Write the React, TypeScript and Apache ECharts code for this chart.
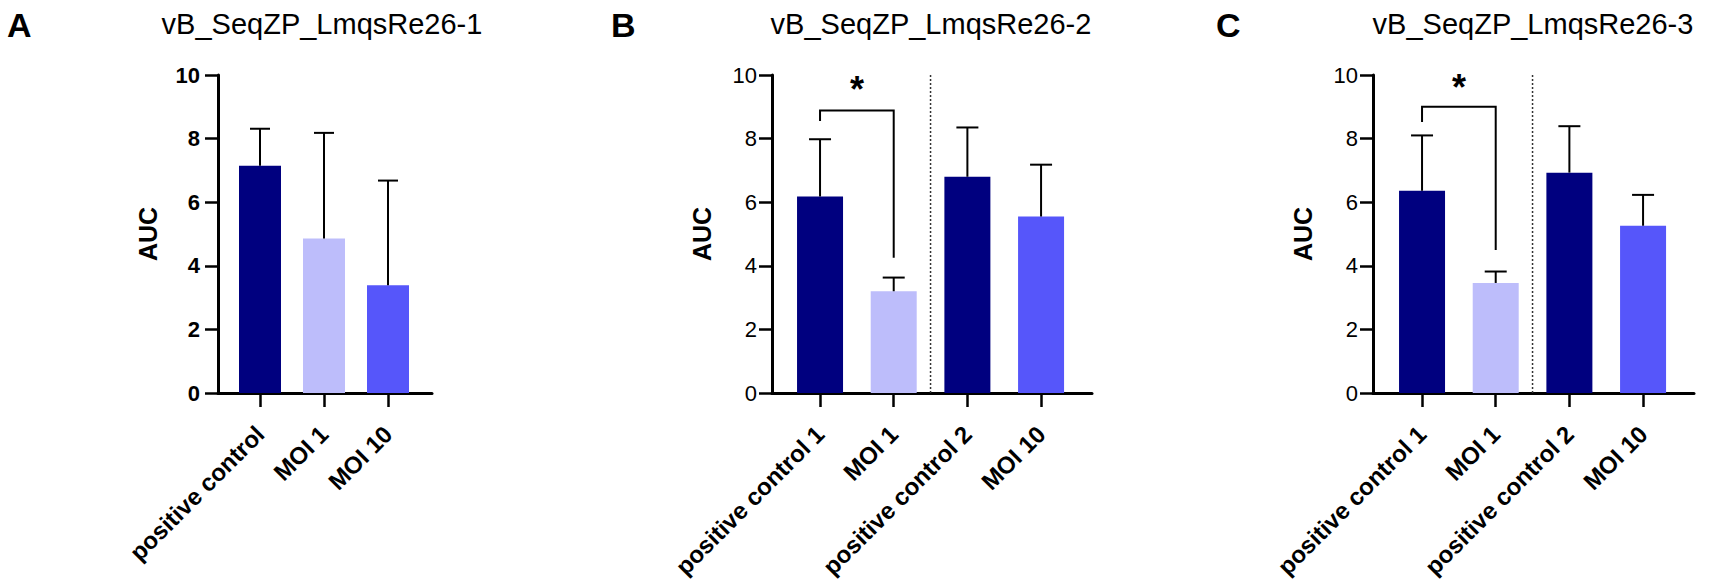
import React, { useEffect, useRef } from "react";
import * as echarts from "echarts";

// ---------- data ----------
const titles = ["vB_SeqZP_LmqsRe26-1", "vB_SeqZP_LmqsRe26-2", "vB_SeqZP_LmqsRe26-3"];
const panelLetters = ["A", "B", "C"];
const yTicks = [0, 2, 4, 6, 8, 10];

const categoriesA = ["positive control", "MOI 1", "MOI 10"];
const meanA = [7.15, 4.86, 3.39];
const errA = [8.31, 8.18, 6.68];

const categoriesB = ["positive control 1", "MOI 1", "positive control 2", "MOI 10"];
const meanB = [6.18, 3.2, 6.8, 5.55];
const errB = [7.98, 3.63, 8.35, 7.18];

const categoriesC = ["positive control 1", "MOI 1", "positive control 2", "MOI 10"];
const meanC = [6.36, 3.46, 6.93, 5.26];
const errC = [8.1, 3.82, 8.39, 6.23];

// bracket: [fromCat, toCat, topY, leftEndY, rightEndY, starY]
const bracketB = [0, 1, 8.88, 8.55, 4.25, 9.55];
const bracketC = [0, 1, 9.0, 8.52, 4.5, 9.6];
// divider between categories
const dividerBC = [1, 2];

const DARK = "#00007F";
const LIGHT = "#BDBDFB";
const MEDIUM = "#5656FA";
const colorsA = [DARK, LIGHT, MEDIUM];
const colorsBC = [DARK, LIGHT, DARK, MEDIUM];

const FONT = "'Liberation Sans', Arial, sans-serif";

// ---------- layout ----------
const panels = [
  { cats: categoriesA, mean: meanA, err: errA, colors: colorsA, yAxisX: 218, gridLeft: 228, gridWidth: 192, axisEnd: 432, barWidth: 42, cap: 20, boldY: true, bracket: null, divider: null, titleX: 322, letterX: 7 },
  { cats: categoriesB, mean: meanB, err: errB, colors: colorsBC, yAxisX: 772, gridLeft: 783.2, gridWidth: 294.7, axisEnd: 1092, barWidth: 46, cap: 22, boldY: false, bracket: bracketB, divider: dividerBC, titleX: 931, letterX: 611 },
  { cats: categoriesC, mean: meanC, err: errC, colors: colorsBC, yAxisX: 1373, gridLeft: 1385.2, gridWidth: 294.7, axisEnd: 1694, barWidth: 46, cap: 22, boldY: false, bracket: bracketC, divider: dividerBC, titleX: 1533, letterX: 1216 },
];
const GRID_TOP = 75;
const GRID_BOTTOM = 187; // 580 - 393

function buildOption() {
  const grid: any[] = [];
  const xAxis: any[] = [];
  const yAxis: any[] = [];
  const series: any[] = [];
  const graphic: any[] = [];

  panels.forEach((p, k) => {
    const gMain = k * 2;
    const gLine = k * 2 + 1;
    grid.push({ left: p.gridLeft, width: p.gridWidth, top: GRID_TOP, bottom: GRID_BOTTOM, containLabel: false, outerBoundsMode: "none" });
    grid.push({ left: p.yAxisX, width: p.axisEnd - p.yAxisX, top: GRID_TOP, bottom: GRID_BOTTOM, containLabel: false, outerBoundsMode: "none" });

    xAxis.push({
      type: "category",
      gridIndex: gMain,
      data: p.cats,
      boundaryGap: true,
      axisLine: { show: false },
      axisTick: { show: true, alignWithLabel: true, length: 14, lineStyle: { color: "#000", width: 2.5 } },
      axisLabel: { interval: 0, rotate: 45, margin: 37, fontSize: 24, fontWeight: "bold", color: "#000", fontFamily: FONT },
      splitLine: { show: false },
    });
    xAxis.push({
      type: "value",
      gridIndex: gLine,
      min: 0,
      max: 1,
      axisLine: { show: true, onZero: false, lineStyle: { color: "#000", width: 3 } },
      axisTick: { show: false },
      axisLabel: { show: false },
      splitLine: { show: false },
    });

    yAxis.push({
      type: "value",
      gridIndex: gMain,
      min: 0,
      max: 10,
      interval: 2,
      offset: p.gridLeft - p.yAxisX,
      name: "AUC",
      nameLocation: "middle",
      nameGap: 58,
      nameTextStyle: { fontSize: 25, fontWeight: "bold", color: "#000", fontFamily: FONT },
      axisLine: { show: true, lineStyle: { color: "#000", width: 3 } },
      axisTick: { show: true, length: 13, lineStyle: { color: "#000", width: 2.5 } },
      axisLabel: {
        fontSize: 22,
        fontWeight: p.boldY ? "bold" : "normal",
        color: "#000",
        margin: p.boldY ? 18 : 15,
        fontFamily: FONT,
        formatter: (v: number) => (yTicks.indexOf(v) >= 0 ? String(v) : ""),
      },
      splitLine: { show: false },
    });
    yAxis.push({ type: "value", gridIndex: gLine, min: 0, max: 1, show: false });

    // bars
    series.push({
      type: "bar",
      xAxisIndex: gMain,
      yAxisIndex: gMain,
      barWidth: p.barWidth,
      data: p.mean.map((v, i) => ({ value: v, itemStyle: { color: p.colors[i] } })),
      z: 2,
    });

    // error bars (upper only)
    const cap = p.cap;
    series.push({
      type: "custom",
      xAxisIndex: gMain,
      yAxisIndex: gMain,
      encode: { x: 0, y: [1, 2] },
      data: p.mean.map((v, i) => [i, v, p.err[i]]),
      z: 3,
      renderItem: (params: any, api: any) => {
        const x = api.value(0);
        const a = api.coord([x, api.value(1)]);
        const b = api.coord([x, api.value(2)]);
        return {
          type: "group",
          children: [
            { type: "line", shape: { x1: a[0], y1: a[1], x2: b[0], y2: b[1] }, style: { stroke: "#000", lineWidth: 2 } },
            { type: "line", shape: { x1: b[0] - cap / 2, y1: b[1], x2: b[0] + cap / 2, y2: b[1] }, style: { stroke: "#000", lineWidth: 2 } },
          ],
        };
      },
    });

    if (p.divider) {
      series.push({
        type: "custom",
        xAxisIndex: gMain,
        yAxisIndex: gMain,
        encode: { x: 0 },
        data: [[p.divider[0], p.divider[1]]],
        z: 1,
        renderItem: (params: any, api: any) => {
          const c1 = api.coord([api.value(0), 0]);
          const c2 = api.coord([api.value(1), 10]);
          const xm = (c1[0] + c2[0]) / 2;
          return {
            type: "line",
            shape: { x1: xm, y1: c2[1], x2: xm, y2: c1[1] },
            style: { stroke: "#333", lineWidth: 1.5, lineDash: [2, 2] },
          };
        },
      });
    }

    if (p.bracket) {
      series.push({
        type: "custom",
        xAxisIndex: gMain,
        yAxisIndex: gMain,
        encode: { x: 0, y: 2 },
        data: [p.bracket],
        z: 4,
        renderItem: (params: any, api: any) => {
          const i0 = api.value(0);
          const i1 = api.value(1);
          const lt = api.coord([i0, api.value(2)]);
          const rt = api.coord([i1, api.value(2)]);
          const le = api.coord([i0, api.value(3)]);
          const re = api.coord([i1, api.value(4)]);
          const st = api.coord([i0, api.value(5)]);
          return {
            type: "group",
            children: [
              {
                type: "polyline",
                shape: { points: [[le[0], le[1]], [lt[0], lt[1]], [rt[0], rt[1]], [re[0], re[1]]] },
                style: { stroke: "#000", lineWidth: 2, fill: null },
              },
              {
                type: "text",
                x: (lt[0] + rt[0]) / 2,
                y: st[1],
                style: {
                  text: "*",
                  fontSize: 36,
                  fontWeight: "bold",
                  fontFamily: FONT,
                  fill: "#000",
                  textAlign: "center",
                  textVerticalAlign: "middle",
                },
              },
            ],
          };
        },
      });
    }

    graphic.push({
      type: "text",
      x: p.titleX,
      y: 24,
      style: { text: titles[k], fontSize: 29, fontFamily: FONT, fill: "#000", textAlign: "center", textVerticalAlign: "middle" },
    });
    graphic.push({
      type: "text",
      x: p.letterX,
      y: 25,
      style: { text: panelLetters[k], fontSize: 34, fontWeight: "bold", fontFamily: FONT, fill: "#000", textAlign: "left", textVerticalAlign: "middle" },
    });
  });

  return {
    animation: false,
    backgroundColor: "#fff",
    grid,
    xAxis,
    yAxis,
    series,
    graphic,
  };
}

export default function App() {
  const ref = useRef<HTMLDivElement>(null);
  useEffect(() => {
    if (!ref.current) return;
    const chart = echarts.init(ref.current, undefined, { renderer: "svg" });
    chart.setOption(buildOption() as any);
    return () => chart.dispose();
  }, []);
  return (
    <div
      ref={ref}
      style={{ position: "fixed", left: 0, top: 0, width: 1712, height: 580, background: "#fff" }}
    />
  );
}
